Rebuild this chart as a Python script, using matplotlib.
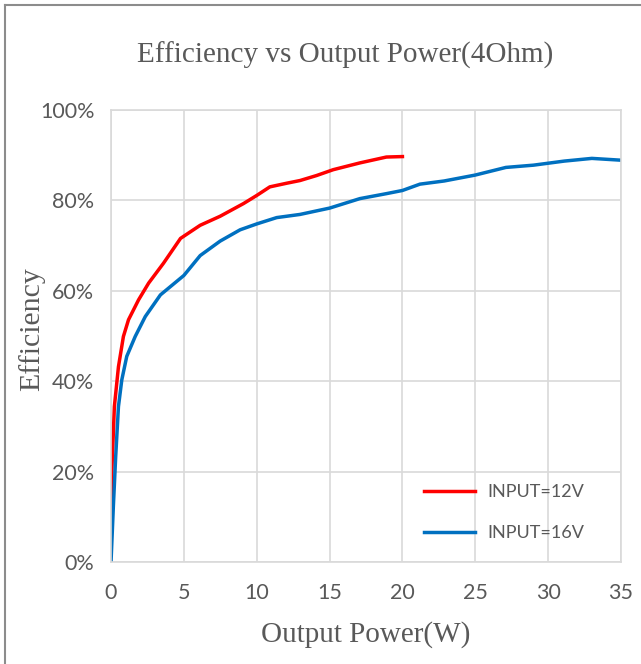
import matplotlib
matplotlib.use("Agg")
import matplotlib.pyplot as plt
from matplotlib.lines import Line2D
from matplotlib.ticker import FuncFormatter

# --- data ---
p_12v = [0.0, 0.05, 0.23, 0.51, 0.85, 1.2, 1.89, 2.58, 3.6, 4.77, 6.12, 7.49, 9.09, 10.0, 10.9,
         12.05, 12.97, 14.1, 15.25, 17.08, 18.9, 20.0]
eff_12v = [8.0, 19.6, 34.4, 43.2, 49.9, 53.6, 58.0, 61.7, 66.1, 71.6, 74.5, 76.5, 79.3, 81.1, 83.0,
           83.8, 84.4, 85.5, 86.8, 88.3, 89.6, 89.7]

p_16v = [0.0, 0.16, 0.32, 0.51, 0.74, 1.08, 1.66, 2.35, 3.39, 5.0, 6.12, 7.49, 8.86, 10.0, 11.37,
         12.97, 15.0, 17.08, 18.9, 20.0, 21.2, 22.86, 24.98, 27.1, 28.99, 31.1, 33.0, 35.0]
eff_16v = [0.0, 12.3, 23.3, 34.4, 40.3, 45.5, 49.9, 54.3, 59.1, 63.4, 67.8, 71.0, 73.5, 74.8, 76.2,
           76.9, 78.3, 80.4, 81.5, 82.2, 83.6, 84.3, 85.6, 87.3, 87.8, 88.7, 89.3, 88.9]

x_ticks = [0, 5, 10, 15, 20, 25, 30, 35]
y_ticks = [0, 20, 40, 60, 80, 100]

fig = plt.figure(figsize=(6.41, 6.64), dpi=100)
ax = fig.add_axes([0.1732, 0.1536, 0.7956, 0.6807])

ax.plot(p_12v, eff_12v, color="#FF0000", lw=2.5, label="INPUT=12V", solid_joinstyle="round")
ax.plot(p_16v, eff_16v, color="#0070C0", lw=2.5, label="INPUT=16V", solid_joinstyle="round")

ax.set_xlim(0, 35)
ax.set_ylim(0, 100)
ax.set_xticks(x_ticks)
ax.set_yticks(y_ticks)
ax.yaxis.set_major_formatter(FuncFormatter(lambda v, _: f"{v:.0f}%"))
ax.grid(True, color="#D9D9D9", lw=1.2)
ax.set_axisbelow(True)
for s in ax.spines.values():
    s.set_color("#D9D9D9")
    s.set_linewidth(1.2)
ax.tick_params(length=0, labelsize=15.5, labelcolor="#595959")
ax.tick_params(axis="x", pad=15)
ax.tick_params(axis="y", pad=12)
for lab in ax.get_xticklabels() + ax.get_yticklabels():
    lab.set_family("Lato")

serif = "Liberation Serif"
fig.text(0.538, 0.917, "Efficiency vs Output Power(4Ohm)", ha="center", va="center",
         family=serif, fontsize=21, color="#595959")
fig.text(0.05, 0.505, "Efficiency", ha="center", va="center", rotation=90,
         family=serif, fontsize=21.5, color="#595959")
fig.text(0.57, 0.044, "Output Power(W)", ha="center", va="center",
         family=serif, fontsize=21, color="#595959")

leg = ax.legend(loc="lower right", frameon=False, handlelength=2.8, labelspacing=1.4,
                handletextpad=0.7, prop={"family": "Lato", "size": 13},
                bbox_to_anchor=(0.96, 0.01))
for t in leg.get_texts():
    t.set_color("#595959")

# outer frame (left and top visible)
fig.add_artist(Line2D([5 / 641, 5 / 641], [0, 1 - 5 / 664], color="#8C8C8C", lw=1.5))
fig.add_artist(Line2D([5 / 641, 1], [1 - 5 / 664, 1 - 5 / 664], color="#8C8C8C", lw=1.5))

fig.savefig("out.png", dpi=100)
